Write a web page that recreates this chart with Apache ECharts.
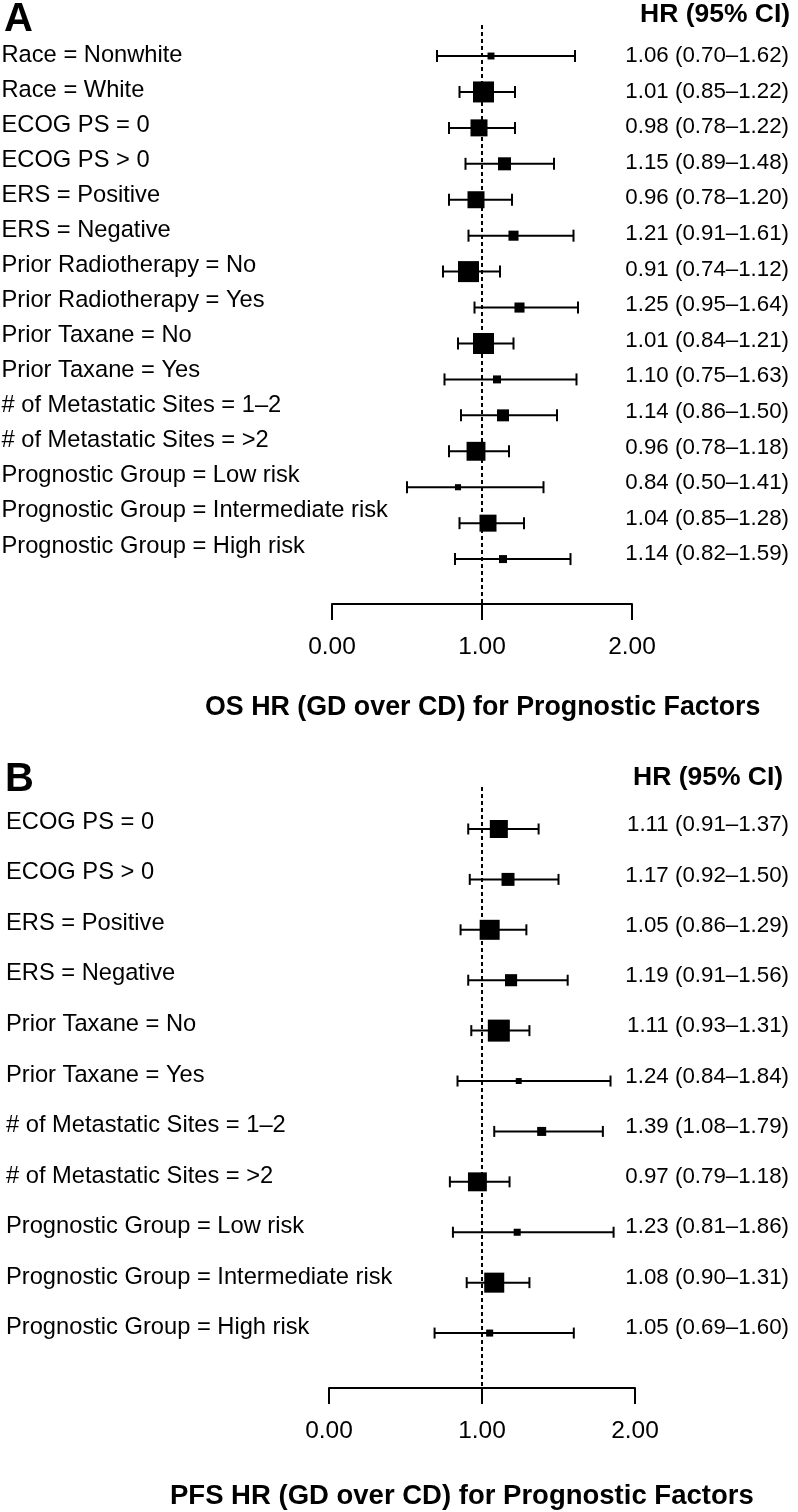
<!DOCTYPE html>
<html><head><meta charset="utf-8">
<script src="https://cdn.jsdelivr.net/npm/echarts/dist/echarts.min.js"></script>
<style>html,body{margin:0;padding:0;background:#fff}#c{width:798px;height:1512px}</style>
</head><body><div id="c"></div><script>
// ---------- Panel A: OS ----------
const labelsA = ['Race = Nonwhite','Race = White','ECOG PS = 0','ECOG PS > 0','ERS = Positive','ERS = Negative',
  'Prior Radiotherapy = No','Prior Radiotherapy = Yes','Prior Taxane = No','Prior Taxane = Yes',
  '# of Metastatic Sites = 1\u20132','# of Metastatic Sites = >2','Prognostic Group = Low risk',
  'Prognostic Group = Intermediate risk','Prognostic Group = High risk'];
const hrA = [1.06,1.01,0.98,1.15,0.96,1.21,0.91,1.25,1.01,1.10,1.14,0.96,0.84,1.04,1.14];
const loA = [0.70,0.85,0.78,0.89,0.78,0.91,0.74,0.95,0.84,0.75,0.86,0.78,0.50,0.85,0.82];
const hiA = [1.62,1.22,1.22,1.48,1.20,1.61,1.12,1.64,1.21,1.63,1.50,1.18,1.41,1.28,1.59];
const weightA = [33,100,81,62,81,48,100,48,100,38,57,90,29,81,38];
// ---------- Panel B: PFS ----------
const labelsB = ['ECOG PS = 0','ECOG PS > 0','ERS = Positive','ERS = Negative','Prior Taxane = No','Prior Taxane = Yes',
  '# of Metastatic Sites = 1\u20132','# of Metastatic Sites = >2','Prognostic Group = Low risk',
  'Prognostic Group = Intermediate risk','Prognostic Group = High risk'];
const hrB = [1.11,1.17,1.05,1.19,1.11,1.24,1.39,0.97,1.23,1.08,1.05];
const loB = [0.91,0.92,0.86,0.91,0.93,0.84,1.08,0.79,0.81,0.90,0.69];
const hiB = [1.37,1.50,1.29,1.56,1.31,1.84,1.79,1.18,1.86,1.31,1.60];
const weightB = [82,59,91,55,100,27,41,86,32,91,32];
const xTicks = [0,1,2];

const FONT = 'Liberation Sans';
const fmt = (h,l,u)=>h.map((v,i)=>`${v.toFixed(2)} (${l[i].toFixed(2)}\u2013${u[i].toFixed(2)})`);
const hrTextA = fmt(hrA,loA,hiA), hrTextB = fmt(hrB,loB,hiB);

function ciRender(cap){
  return function(params, api){
    const a = api.coord([api.value(0), api.value(2)]);
    const b = api.coord([api.value(1), api.value(2)]);
    const st = {stroke:'#000', lineWidth:2};
    return {type:'group', children:[
      {type:'line', shape:{x1:a[0],y1:a[1],x2:b[0],y2:b[1]}, style:st},
      {type:'line', shape:{x1:a[0],y1:a[1]-cap,x2:a[0],y2:a[1]+cap}, style:st},
      {type:'line', shape:{x1:b[0],y1:b[1]-cap,x2:b[0],y2:b[1]+cap}, style:st}
    ]};
  };
}

const chart = echarts.init(document.getElementById('c'), null, {renderer:'canvas'});

function valueX(gi){
  return {gridIndex:gi, type:'value', min:0, max:2, interval:1,
    axisLine:{show:true, onZero:false, lineStyle:{color:'#000', width:2}},
    axisTick:{show:true, length:16, lineStyle:{color:'#000', width:2}},
    splitLine:{show:false},
    axisLabel:{margin:31, fontSize:24.5, color:'#000', fontFamily:FONT,
      formatter:v=>xTicks.includes(v)?v.toFixed(2):''}};
}
function hiddenX(gi){ return {gridIndex:gi, type:'value', show:false}; }
function labelY(gi, data, pos, align, margin, size){
  return {gridIndex:gi, type:'category', data:data, inverse:true, position:pos,
    axisLine:{show:false}, axisTick:{show:false}, splitLine:{show:false},
    axisLabel:{align:align, margin:margin, fontSize:size, color:'#000', fontFamily:FONT}};
}

const option = {
  animation:false,
  backgroundColor:'#fff',
  grid:[
    {left:332, width:300, top:25, height:579},      // 0 A plot
    {left:10, width:1, top:37.5, height:526},       // 1 A labels
    {left:780, width:1, top:38, height:534},        // 2 A HR text
    {left:329, width:306, top:787, height:601},     // 3 B plot
    {left:15, width:1, top:797, height:556},        // 4 B labels
    {left:780, width:1, top:800, height:553}        // 5 B HR text
  ],
  xAxis:[valueX(0), hiddenX(1), hiddenX(2), valueX(3), hiddenX(4), hiddenX(5)],
  yAxis:[
    {gridIndex:0, type:'value', inverse:true, min:-0.863, max:15.25, show:false},
    labelY(1, labelsA, 'left', 'left', 9.5, 23.7),
    labelY(2, hrTextA, 'right', 'right', 8, 22.3),
    {gridIndex:3, type:'value', inverse:true, min:-0.833, max:11.09, show:false},
    labelY(4, labelsB, 'left', 'left', 9, 23.7),
    labelY(5, hrTextB, 'right', 'right', 8, 22.3)
  ],
  graphic:[
    {type:'text', left:4, top:0, style:{text:'A', font:`bold 40px "${FONT}"`, fill:'#000'}},
    {type:'text', left:640, top:1, style:{text:'HR (95% CI)', font:`bold 26.5px "${FONT}"`, fill:'#000'}},
    {type:'text', left:205, top:694, style:{text:'OS HR (GD over CD) for Prognostic Factors', font:`bold 26.8px "${FONT}"`, fill:'#000'}},
    {type:'text', left:5, top:760, style:{text:'B', font:`bold 40px "${FONT}"`, fill:'#000'}},
    {type:'text', left:633, top:764, style:{text:'HR (95% CI)', font:`bold 26.5px "${FONT}"`, fill:'#000'}},
    {type:'text', left:170, top:1482, style:{text:'PFS HR (GD over CD) for Prognostic Factors', font:`bold 27.5px "${FONT}"`, fill:'#000'}}
  ],
  series:[
    {type:'custom', xAxisIndex:0, yAxisIndex:0, renderItem:ciRender(6), encode:{x:[0,1], y:2},
      data:loA.map((l,i)=>[l, hiA[i], i]), z:2},
    {type:'scatter', xAxisIndex:0, yAxisIndex:0, symbol:'rect',
      symbolSize:(v,p)=>21*weightA[p.dataIndex]/100,
      itemStyle:{color:'#000', opacity:1}, data:hrA.map((h,i)=>[h,i]), z:3,
      markLine:{silent:true, symbol:'none', label:{show:false},
        lineStyle:{color:'#000', type:[4,3], width:2}, data:[{xAxis:1}]}},
    {type:'custom', xAxisIndex:3, yAxisIndex:3, renderItem:ciRender(5.5), encode:{x:[0,1], y:2},
      data:loB.map((l,i)=>[l, hiB[i], i]), z:2},
    {type:'scatter', xAxisIndex:3, yAxisIndex:3, symbol:'rect',
      symbolSize:(v,p)=>22*weightB[p.dataIndex]/100,
      itemStyle:{color:'#000', opacity:1}, data:hrB.map((h,i)=>[h,i]), z:3,
      markLine:{silent:true, symbol:'none', label:{show:false},
        lineStyle:{color:'#000', type:[4,3], width:2}, data:[{xAxis:1}]}}
  ]
};
chart.setOption(option);
</script></body></html>
